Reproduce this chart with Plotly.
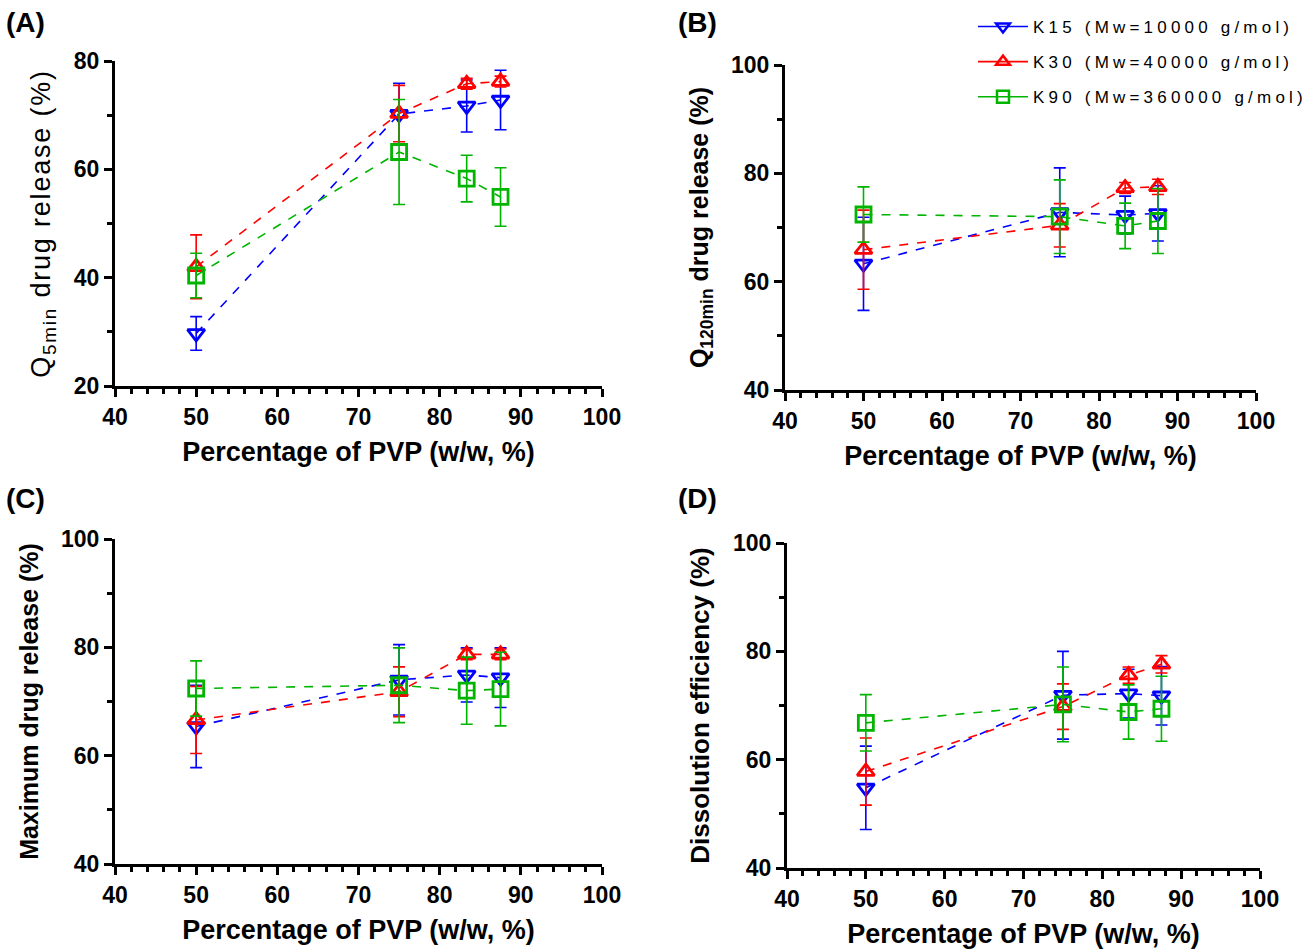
import plotly.graph_objects as go

# ---------------- data ----------------
pvp_pct = [50, 75, 83.33, 87.5]
series_names = ["K15 (Mw=10000 g/mol)", "K30 (Mw=40000 g/mol)", "K90 (Mw=360000 g/mol)"]

# Panel A: Q5min drug release (%)
a_k15 = [29.7, 70.2, 71.7, 72.8]
a_k15_err = [3.1, 5.7, 4.8, 5.5]
a_k30 = [42.0, 70.3, 75.8, 76.2]
a_k30_err = [5.9, 5.2, 1.0, 1.0]
a_k90 = [40.4, 63.2, 58.3, 54.9]
a_k90_err = [4.1, 9.7, 4.3, 5.4]

# Panel B: Q120min drug release (%)
b_k15 = [63.3, 72.8, 72.3, 72.6]
b_k15_err = [8.6, 8.2, 3.5, 5.1]
b_k30 = [65.9, 70.4, 77.3, 77.5]
b_k30_err = [7.3, 4.0, 1.0, 1.4]
b_k90 = [72.4, 72.0, 70.3, 71.2]
b_k90_err = [5.1, 6.8, 4.2, 6.0]

# Panel C: Maximum drug release (%)
c_k15 = [65.4, 74.0, 74.9, 74.4]
c_k15_err = [7.6, 6.5, 5.0, 5.5]
c_k30 = [66.6, 71.8, 78.7, 78.7]
c_k30_err = [6.2, 4.6, 1.0, 1.0]
c_k90 = [72.4, 73.0, 72.0, 72.3]
c_k90_err = [5.1, 6.9, 6.2, 6.8]

# Panel D: Dissolution efficiency (%)
d_k15 = [54.8, 71.9, 72.2, 71.8]
d_k15_err = [7.7, 8.1, 4.5, 5.4]
d_k30 = [57.8, 69.8, 75.6, 77.6]
d_k30_err = [6.2, 4.2, 1.5, 1.6]
d_k90 = [66.8, 70.2, 68.8, 69.4]
d_k90_err = [5.2, 6.9, 5.0, 6.0]

x_title = "Percentage of PVP (w/w, %)"
y_titles = ["Q<sub>5min</sub> drug release (%)", "Q<sub>120min</sub> drug release (%)",
            "Maximum drug release (%)", "Dissolution efficiency (%)"]
panel_labels = ["(A)", "(B)", "(C)", "(D)"]

# ---------------- style ----------------
W, H = 1312, 950
colors = ["#0000FF", "#FF0000", "#00B400"]
symbols = ["triangle-down-open", "triangle-up-open", "square-open"]
FONT = "Arial, Liberation Sans, sans-serif"

panels = [
    dict(vals=[a_k15, a_k30, a_k90], errs=[a_k15_err, a_k30_err, a_k90_err], yr=[20, 80],
         px=(115, 602), py=(61, 386)),
    dict(vals=[b_k15, b_k30, b_k90], errs=[b_k15_err, b_k30_err, b_k90_err], yr=[40, 100],
         px=(785, 1256), py=(65, 390)),
    dict(vals=[c_k15, c_k30, c_k90], errs=[c_k15_err, c_k30_err, c_k90_err], yr=[40, 100],
         px=(115, 602), py=(539, 864)),
    dict(vals=[d_k15, d_k30, d_k90], errs=[d_k15_err, d_k30_err, d_k90_err], yr=[40, 100],
         px=(787, 1260), py=(543, 868)),
]
y_title_sizes = [27, 25, 25, 26]

fig = go.Figure()
layout = dict(
    width=W, height=H, margin=dict(l=0, r=0, t=0, b=0, autoexpand=False),
    plot_bgcolor="white", paper_bgcolor="white",
    font=dict(family=FONT, color="black"),
    showlegend=True,
)

annotations = []
for i, p in enumerate(panels):
    n = "" if i == 0 else str(i + 1)
    xa, ya = "x" + n, "y" + n
    for s in range(3):
        fig.add_trace(go.Scatter(
            x=pvp_pct, y=p["vals"][s], xaxis=xa, yaxis=ya,
            mode="lines+markers",
            line=dict(color=colors[s], width=1.6, dash="dash"),
            marker=dict(symbol=symbols[s], size=15, color=colors[s],
                        line=dict(width=2.8, color=colors[s])),
            error_y=dict(type="data", array=p["errs"][s], visible=True,
                         color=colors[s], thickness=1.6, width=6),
            showlegend=False, hoverinfo="x+y",
        ))
    x0, x1 = p["px"]
    y0, y1 = p["py"]
    common = dict(showline=True, linewidth=3, linecolor="black", ticks="outside",
                  ticklen=8, tickwidth=3, tickcolor="black", showgrid=False, zeroline=False,
                  tickfont=dict(family=FONT, size=23, color="black", weight="bold"),
                  mirror=False, automargin=False)
    layout["xaxis" + n] = dict(
        common, domain=[x0 / W, x1 / W], range=[40, 100], anchor=ya,
        tickmode="linear", tick0=40, dtick=10,
        minor=dict(ticks="outside", ticklen=5, tickwidth=2.5, tickcolor="black",
                   tickmode="linear", tick0=40, dtick=2),
        title=dict(text="<b>" + x_title + "</b>", font=dict(family=FONT, size=27), standoff=14),
    )
    ytxt = y_titles[i] if i == 0 else "<b>" + y_titles[i] + "</b>"
    layout["yaxis" + n] = dict(
        common, domain=[1 - y1 / H, 1 - y0 / H], range=p["yr"], anchor=xa,
        tickmode="linear", tick0=p["yr"][0], dtick=20,
        minor=dict(ticks="outside", ticklen=5, tickwidth=2.5, tickcolor="black",
                   tickmode="linear", tick0=p["yr"][0], dtick=10),
        title=dict(text=ytxt, font=dict(family=FONT, size=y_title_sizes[i]), standoff=16),
    )
    annotations.append(dict(
        text="<b>" + panel_labels[i] + "</b>", xref="paper", yref="paper",
        x=(4 if i % 2 == 0 else 676) / W, y=1 - (22 if i < 2 else 498) / H,
        xanchor="left", yanchor="middle", showarrow=False,
        font=dict(family=FONT, size=28, color="black"),
    ))

# legend-only traces, each in its own group so the rows are spaced as in the reference
for s in range(3):
    fig.add_trace(go.Scatter(
        x=[None], y=[None], mode="lines+markers", name=series_names[s],
        line=dict(color=colors[s], width=1.6),
        marker=dict(symbol=symbols[s], size=12, color=colors[s],
                    line=dict(width=2.5, color=colors[s])),
        legendgroup="g" + str(s), showlegend=True,
    ))
layout["legend"] = dict(
    x=973 / W, y=1 - 9 / H, xanchor="left", yanchor="top",
    bgcolor="rgba(0,0,0,0)", font=dict(family=FONT, size=17, color="black"),
    itemwidth=50, tracegroupgap=10, orientation="v",
)

layout["annotations"] = annotations
fig.update_layout(**layout)

# the reference legend text and panel A y-title are letter-spaced: add a stylesheet rule
post = """
var st = document.createElement('style');
st.textContent = '.legendtext{letter-spacing:4.2px !important;} .scrollbox{clip-path:none !important;}'
  + ' .ytitle{letter-spacing:1.8px !important;}';
document.head.appendChild(st);
"""
fig.write_html("out.html", post_script=post)
